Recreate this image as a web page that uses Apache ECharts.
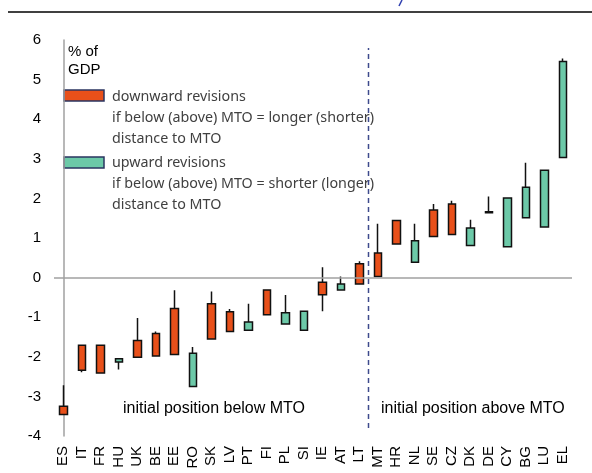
<!DOCTYPE html>
<html><head><meta charset="utf-8">
<script src="https://cdn.jsdelivr.net/npm/echarts@6/dist/echarts.min.js"></script>
<style>html,body{margin:0;padding:0;background:#fff}#c{width:592px;height:473px}</style>
</head><body><div id="c"></div>
<script>
const categories = ['ES','IT','FR','HU','UK','BE','EE','RO','SK','LV','PT','FI','PL','SI','IE','AT','LT','MT','HR','NL','SE','CZ','DK','DE','CY','BG','LU','EL'];
const boxLow = [-3.46,-2.34,-2.41,-2.13,-2.01,-1.98,-1.94,-2.75,-1.55,-1.36,-1.33,-0.94,-1.17,-1.33,-0.43,-0.31,-0.16,0.03,0.85,0.39,1.04,1.09,0.81,1.64,0.78,1.51,1.28,3.03];
const boxHigh = [-3.25,-1.71,-1.71,-2.05,-1.59,-1.41,-0.78,-1.91,-0.66,-0.86,-1.12,-0.31,-0.89,-0.85,-0.12,-0.16,0.35,0.62,1.44,0.93,1.71,1.86,1.25,1.66,2.01,2.28,2.71,5.46];
const whiskerLow = [-3.46,-2.39,-2.41,-2.32,-2.01,-1.98,-1.94,-2.75,-1.55,-1.36,-1.33,-0.94,-1.17,-1.33,-0.85,-0.31,-0.16,0.03,0.85,0.39,1.04,1.09,0.81,1.64,0.78,1.51,1.28,3.03];
const whiskerHigh = [-2.72,-1.71,-1.71,-2.05,-1.02,-1.36,-0.32,-1.75,-0.35,-0.79,-0.66,-0.31,-0.44,-0.85,0.26,0.03,0.41,1.36,1.46,1.36,1.86,1.94,1.46,2.05,2.01,2.90,2.71,5.53];
const revision = ['down','down','down','up','down','down','down','up','down','down','up','down','up','up','down','up','down','down','down','up','down','down','up','down','up','up','up','up'];
const yTicks = [-4,-3,-2,-1,0,1,2,3,4,5,6];
const dividerX = 16.5;
const dividerY = [-3.8, 5.8];

const RED = '#E8501A', GREEN = '#6CC9A8';
const candleData = categories.map((c, i) => {
  const col = revision[i] === 'down' ? RED : GREEN;
  return {
    value: [boxLow[i], boxHigh[i], whiskerLow[i], whiskerHigh[i]],
    itemStyle: {color: col, color0: col, borderColor: '#111', borderColor0: '#111', borderWidth: 1.5}
  };
});

const chart = echarts.init(document.getElementById('c'), null, {renderer: 'canvas'});
const FONT = 'Liberation Sans';
chart.setOption({
  animation: false,
  grid: {left: 54, right: 20, top: 40, bottom: 37},
  xAxis: [{
    type: 'category', data: categories, boundaryGap: true,
    axisLine: {show: false}, axisTick: {show: false},
    axisLabel: {rotate: 90, interval: 0, hideOverlap: false, fontFamily: FONT, fontSize: 15, color: '#000', margin: 10}
  }, {
    type: 'value', min: -0.5, max: 27.5, show: false
  }],
  yAxis: {
    type: 'value', min: yTicks[0], max: yTicks[yTicks.length-1], interval: 1,
    axisLine: {show: true, lineStyle: {color: '#A0A0A0', width: 1.5}},
    axisTick: {show: false}, splitLine: {show: false},
    axisLabel: {fontFamily: FONT, fontSize: 15, color: '#000', margin: 13}
  },
  series: [{
    type: 'candlestick', data: candleData, barWidth: 8,
    markLine: {
      silent: true, symbol: ['none','none'], label: {show: false},
      lineStyle: {color: '#A0A0A0', width: 1.5, type: 'solid'},
      data: [{yAxis: 0}]
    }
  }, {
    type: 'line', xAxisIndex: 1, symbol: 'none',
    data: [[dividerX, dividerY[0]], [dividerX, dividerY[1]]],
    lineStyle: {color: '#3D4A8C', width: 1.5, type: [5, 4]}
  }],
  graphic: [
    {type: 'line', shape: {x1: 8, y1: 12, x2: 592, y2: 12}, style: {stroke: '#000', lineWidth: 1.5}},
    {type: 'line', shape: {x1: 402, y1: 0, x2: 399, y2: 6}, style: {stroke: '#3040B0', lineWidth: 1.5}},
    {type: 'text', left: 68, top: 43, style: {text: '% of\nGDP', font: '15px "Liberation Sans"', fill: '#000', lineHeight: 18}},
    {type: 'rect', shape: {x: 64, y: 90, width: 40, height: 11}, style: {fill: RED, stroke: '#2A3560', lineWidth: 1.5}},
    {type: 'text', left: 112, top: 86, style: {text: 'downward revisions\nif below (above) MTO = longer (shorter)\ndistance to MTO', font: '14.3px "Noto Sans"', fill: '#404040', lineHeight: 21}},
    {type: 'rect', shape: {x: 64, y: 157, width: 40, height: 11}, style: {fill: GREEN, stroke: '#2A3560', lineWidth: 1.5}},
    {type: 'text', left: 112, top: 152, style: {text: 'upward revisions\nif below (above) MTO = shorter (longer)\ndistance to MTO', font: '14.3px "Noto Sans"', fill: '#404040', lineHeight: 21}},
    {type: 'text', left: 123, top: 401, style: {text: 'initial position below MTO', font: '16px "Liberation Sans"', fill: '#000'}},
    {type: 'text', left: 381, top: 401, style: {text: 'initial position above MTO', font: '16px "Liberation Sans"', fill: '#000'}}
  ]
});
</script></body></html>
